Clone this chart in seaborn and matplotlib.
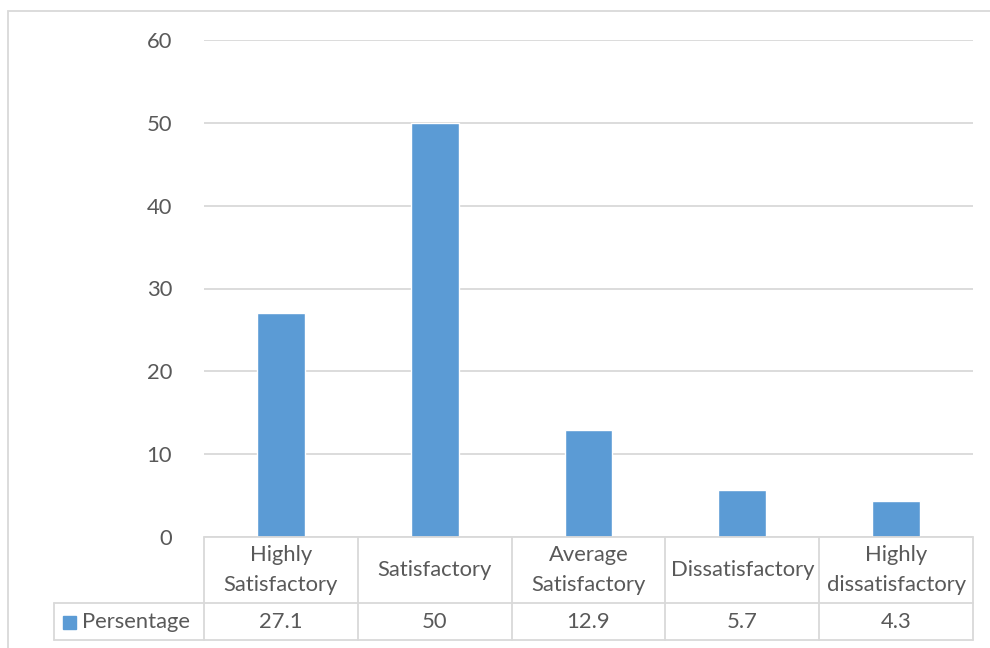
import matplotlib
matplotlib.use("Agg")
import matplotlib.pyplot as plt
import matplotlib.transforms as mtransforms
from matplotlib.patches import Rectangle
from matplotlib.lines import Line2D
import seaborn as sns
import pandas as pd

categories = ["Highly\nSatisfactory", "Satisfactory", "Average\nSatisfactory",
              "Dissatisfactory", "Highly\ndissatisfactory"]
values = [27.1, 50, 12.9, 5.7, 4.3]
value_labels = ["27.1", "50", "12.9", "5.7", "4.3"]
series_name = "Persentage"
y_ticks = [0, 10, 20, 30, 40, 50, 60]

BAR = "#5b9bd5"
TEXT = "#595959"
GRID = "#d9d9d9"
FS = 15.8

sns.set_theme(style="white")
plt.rcParams["font.family"] = ["Lato", "DejaVu Sans"]

W, H = 990, 648
fig = plt.figure(figsize=(W / 100, H / 100), dpi=100)

# plot area in pixel terms
left_px, right_px, top_px, bottom_px = 204, 973, 40, 537
ax = fig.add_axes([left_px / W, 1 - bottom_px / H,
                   (right_px - left_px) / W, (bottom_px - top_px) / H])

df = pd.DataFrame({"category": categories, "value": values})
sns.barplot(data=df, x="category", y="value", color=BAR, saturation=1,
            width=0.31, ax=ax)

ax.set_xlim(-0.5, len(categories) - 0.5)
ax.set_ylim(0, 60)
ax.set_yticks(y_ticks)
ax.set_yticklabels([str(t) for t in y_ticks])
ax.tick_params(axis="y", length=0, pad=23, labelsize=FS, labelcolor=TEXT)
ax.set_xticks([])
ax.set_xlabel("")
ax.set_ylabel("")
for s in ["top", "right", "left", "bottom"]:
    ax.spines[s].set_visible(False)
ax.yaxis.grid(True, color=GRID, linewidth=1.3)
ax.set_axisbelow(True)

# data table beneath the bars
plot_h = bottom_px - top_px
row1 = -(603 - bottom_px) / plot_h
row2 = -(640 - bottom_px) / plot_h
trans = mtransforms.blended_transform_factory(ax.transData, ax.transAxes)
n = len(categories)
legend_left = (54 - left_px) / ((right_px - left_px) / n) - 0.5

line_kw = dict(color=GRID, linewidth=1.3, transform=trans, clip_on=False)
ax.add_line(Line2D([-0.5, n - 0.5], [0, 0], **line_kw))
ax.add_line(Line2D([legend_left, n - 0.5], [row1, row1], **line_kw))
ax.add_line(Line2D([legend_left, n - 0.5], [row2, row2], **line_kw))
for i in range(n + 1):
    ax.add_line(Line2D([i - 0.5, i - 0.5], [0, row2], **line_kw))
ax.add_line(Line2D([legend_left, legend_left], [row1, row2], **line_kw))

for i, (cat, lab) in enumerate(zip(categories, value_labels)):
    ax.text(i, row1 / 2, cat, transform=trans, ha="center", va="center",
            fontsize=FS, color=TEXT, linespacing=1.65)
    ax.text(i, (row1 + row2) / 2, lab, transform=trans, ha="center",
            va="center", fontsize=FS, color=TEXT)

# legend key inside the table
fig.patches.append(Rectangle((63 / W, 1 - 629 / H), 13 / W, 13 / H,
                             transform=fig.transFigure, color=BAR))
fig.text(82 / W, 1 - 621.5 / H, series_name, ha="left", va="center",
         fontsize=FS, color=TEXT)

# chart frame
fig.patches.append(Rectangle((8 / W, -0.05), 1.1, 1 - 11 / H + 0.05,
                             transform=fig.transFigure, fill=False,
                             edgecolor=GRID, linewidth=1.3))

fig.savefig("out.png", dpi=100)
